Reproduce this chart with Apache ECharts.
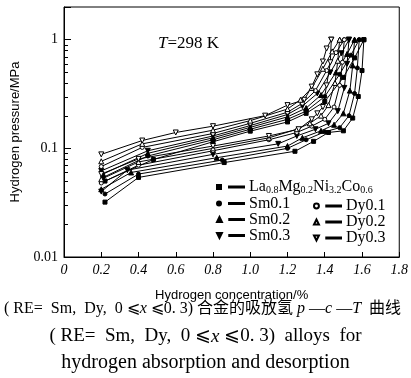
<!DOCTYPE html>
<html>
<head>
<meta charset="utf-8">
<script src="https://cdn.jsdelivr.net/npm/echarts@6/dist/echarts.min.js"></script>
<style>
html, body { margin: 0; padding: 0; background: #fff; }
#main { width: 411px; height: 378px; }
</style>
</head>
<body>
<div id="main"></div>
<script>
// 合金名称 (图例)
var alloyNames = ['La0.8Mg0.2Ni3.2Co0.6', 'Sm0.1', 'Sm0.2', 'Sm0.3', 'Dy0.1', 'Dy0.2', 'Dy0.3'];
var xTicks = [0, 0.2, 0.4, 0.6, 0.8, 1.0, 1.2, 1.4, 1.6, 1.8];
var yMinor = [0.02, 0.03, 0.04, 0.05, 0.06, 0.07, 0.08, 0.09, 0.2, 0.3, 0.4, 0.5, 0.6, 0.7, 0.8, 0.9];

// 吸氢曲线 [浓度 %, 压力 MPa]
var laAbs = [[0.22,0.05],[0.48,0.079],[0.8,0.115],[1.0,0.144],[1.2,0.175],[1.3,0.21],[1.4,0.27],[1.5,0.45],[1.56,0.68],[1.61,1.0]];
var sm1Abs = [[0.21,0.054],[0.45,0.085],[0.8,0.12],[1.0,0.15],[1.2,0.185],[1.3,0.22],[1.4,0.3],[1.48,0.48],[1.54,0.72],[1.585,1.0]];
var sm2Abs = [[0.21,0.058],[0.45,0.09],[0.8,0.125],[1.0,0.156],[1.2,0.195],[1.3,0.235],[1.38,0.31],[1.46,0.5],[1.52,0.74],[1.56,1.0]];
var sm3Abs = [[0.2,0.062],[0.45,0.095],[0.8,0.13],[1.0,0.162],[1.2,0.205],[1.28,0.245],[1.36,0.32],[1.43,0.5],[1.49,0.75],[1.53,1.0]];
var dy1Abs = [[0.2,0.068],[0.42,0.102],[0.8,0.137],[1.0,0.17],[1.2,0.215],[1.28,0.26],[1.35,0.34],[1.41,0.52],[1.46,0.76],[1.505,1.0]];
var dy2Abs = [[0.2,0.076],[0.42,0.11],[0.8,0.147],[1.0,0.18],[1.2,0.23],[1.27,0.28],[1.33,0.36],[1.39,0.54],[1.44,0.78],[1.48,1.0]];
var dy3Abs = [[0.2,0.088],[0.42,0.118],[0.6,0.14],[0.8,0.16],[1.08,0.2],[1.2,0.25],[1.29,0.28],[1.33,0.37],[1.36,0.48],[1.39,0.63],[1.41,0.83],[1.435,1.0]];

// 放氢曲线
var laDes = [[1.61,1.0],[1.6,0.52],[1.58,0.3],[1.55,0.19],[1.5,0.145],[1.42,0.14],[1.34,0.116],[1.24,0.094],[0.86,0.074],[0.4,0.054],[0.22,0.032]];
var sm1Des = [[1.585,1.0],[1.575,0.55],[1.56,0.32],[1.53,0.2],[1.48,0.155],[1.4,0.142],[1.3,0.12],[1.2,0.1],[0.85,0.078],[0.4,0.058],[0.22,0.038]];
var sm2Des = [[1.56,1.0],[1.55,0.58],[1.535,0.34],[1.5,0.21],[1.45,0.165],[1.38,0.145],[1.28,0.125],[1.2,0.105],[0.82,0.082],[0.36,0.06],[0.2,0.042]];
var sm3Des = [[1.53,1.0],[1.52,0.6],[1.505,0.36],[1.47,0.22],[1.42,0.17],[1.35,0.15],[1.25,0.13],[1.15,0.11],[0.8,0.088],[0.34,0.063],[0.2,0.04]];
var dy1Des = [[1.505,1.0],[1.495,0.62],[1.48,0.38],[1.45,0.24],[1.4,0.185],[1.33,0.16],[1.25,0.14],[1.1,0.12],[0.8,0.095],[0.4,0.07],[0.2,0.048]];
var dy2Des = [[1.48,1.0],[1.47,0.64],[1.455,0.4],[1.42,0.25],[1.38,0.2],[1.32,0.17],[1.25,0.15],[1.1,0.125],[0.8,0.1],[0.4,0.075],[0.2,0.052]];
var dy3Des = [[1.435,1.0],[1.43,0.62],[1.41,0.38],[1.39,0.24],[1.36,0.21],[1.33,0.185],[1.26,0.15],[1.1,0.13],[0.8,0.105],[0.4,0.08],[0.2,0.058]];

var absList = [laAbs, sm1Abs, sm2Abs, sm3Abs, dy1Abs, dy2Abs, dy3Abs];
var desList = [laDes, sm1Des, sm2Des, sm3Des, dy1Des, dy2Des, dy3Des];

// 标记样式
var symbols = ['rect', 'circle', 'triangle', 'path://M0,0L10,0L5,9Z', 'circle', 'triangle', 'path://M0,0L10,0L5,9Z'];
var filled = [true, true, true, true, false, false, false];
var symSize = [4, 4, 5, 5, 4, 5, 5];

// 图例图标: 小标记 + 短线
var dash = 'M12,2L27,2L27,3L12,3Z';
var iconMark = [
  'M0,0.5L4,0.5L4,4.5L0,4.5Z',
  'M0,2.5A2,2,0,1,1,4,2.5A2,2,0,1,1,0,2.5Z',
  'M2,0L4.5,5L-0.5,5Z',
  'M-0.5,0L4.5,0L2,5Z',
  'M-0.5,2.5A2.5,2.5,0,1,1,4.5,2.5A2.5,2.5,0,1,1,-0.5,2.5Z',
  'M2,0L4.5,5L-0.5,5Z',
  'M-0.5,0L4.5,0L2,5Z'
];

var serif = '"Liberation Serif", "Times New Roman", serif';

var series = [];
for (var i = 0; i < alloyNames.length; i++) {
  [absList[i], desList[i]].forEach(function (d) {
    series.push({
      name: alloyNames[i],
      type: 'line',
      data: d,
      symbol: symbols[i],
      symbolSize: symSize[i],
      showAllSymbol: true,
      lineStyle: { color: '#000', width: 1 },
      itemStyle: {
        color: filled[i] ? '#000' : '#fff',
        borderColor: '#000',
        borderWidth: 1,
        opacity: 1
      },
      emphasis: { disabled: true },
      z: filled[i] ? 3 : 4
    });
  });
}

// 对数轴次刻度
series.push({
  type: 'custom',
  data: yMinor.map(function (v) { return [0, v]; }),
  silent: true,
  clip: false,
  z: 10,
  renderItem: function (params, api) {
    var p = api.coord([api.value(0), api.value(1)]);
    var y = Math.round(p[1]) + 0.5;
    return {
      type: 'line',
      shape: { x1: p[0], y1: y, x2: p[0] + 4, y2: y },
      style: { stroke: '#000', lineWidth: 1 }
    };
  }
});

var legendText = {
  fontFamily: serif,
  fontSize: 16,
  color: '#000',
  rich: {
    n: { fontFamily: serif, fontSize: 16, color: '#000' },
    s: { fontFamily: serif, fontSize: 10, color: '#000', padding: [7, 0, 0, 0] }
  }
};

function legendData(list) {
  return list.map(function (name) {
    var k = alloyNames.indexOf(name);
    return { name: name, icon: 'path://' + iconMark[k] + dash };
  });
}

var option = {
  backgroundColor: '#fff',
  animation: false,
  grid: {
    left: 64, right: 11, top: 7, bottom: 121,
    show: true, borderColor: '#000', borderWidth: 1, backgroundColor: 'transparent'
  },
  legend: [
    {
      data: legendData(alloyNames.slice(0, 4)),
      orient: 'vertical',
      left: 211, top: 174,
      itemWidth: 27, itemHeight: 5, itemGap: 0,
      selectedMode: false,
      textStyle: legendText,
      formatter: function (name) {
        if (name === 'La0.8Mg0.2Ni3.2Co0.6') {
          return '{n|La}{s|0.8}{n|Mg}{s|0.2}{n|Ni}{s|3.2}{n|Co}{s|0.6}';
        }
        return '{n|' + name + '}';
      }
    },
    {
      data: legendData(alloyNames.slice(4)),
      orient: 'vertical',
      left: 308, top: 193,
      itemWidth: 27, itemHeight: 5, itemGap: 0,
      selectedMode: false,
      textStyle: legendText,
      formatter: function (name) { return '{n|' + name + '}'; }
    }
  ],
  xAxis: {
    type: 'value',
    min: 0, max: 1.8, interval: 0.2,
    name: 'Hydrogen concentration/%',
    nameLocation: 'middle',
    nameGap: 32,
    nameTextStyle: { fontFamily: '"Liberation Sans", Arial, sans-serif', fontSize: 13, color: '#000' },
    axisLine: { lineStyle: { color: '#000', width: 1 } },
    axisTick: { inside: true, length: 5, lineStyle: { color: '#000' } },
    splitLine: { show: false },
    axisLabel: {
      color: '#000', fontFamily: serif, fontStyle: 'italic', fontSize: 14, margin: 6,
      formatter: function (v) {
        var t = xTicks.filter(function (x) { return Math.abs(x - v) < 1e-6; })[0];
        return t === 0 ? '0' : v.toFixed(1);
      }
    }
  },
  yAxis: {
    type: 'log',
    logBase: 10,
    min: 0.01, max: 2,
    name: 'Hydrogen pressure/MPa',
    nameLocation: 'middle',
    nameGap: 42,
    nameTextStyle: { fontFamily: '"Liberation Sans", Arial, sans-serif', fontSize: 13, color: '#000' },
    axisLine: { lineStyle: { color: '#000', width: 1 } },
    axisTick: { inside: true, length: 7, lineStyle: { color: '#000' } },
    splitLine: { show: false },
    axisLabel: {
      color: '#000', fontFamily: serif, fontSize: 14, margin: 6,
      formatter: function (v) {
        if (Math.abs(v - 1) < 1e-9) return '1';
        if (Math.abs(v - 0.1) < 1e-9) return '0.1';
        if (Math.abs(v - 0.01) < 1e-9) return '0.01';
        return '';
      }
    }
  },
  graphic: [
    {
      type: 'text', left: 158, top: 35,
      style: {
        text: '{i|T}{n|=298 K}',
        rich: {
          i: { fontFamily: serif, fontStyle: 'italic', fontSize: 17, fill: '#000' },
          n: { fontFamily: serif, fontSize: 17, fill: '#000' }
        }
      }
    },
    {
      type: 'text', left: 4, top: 301,
      style: {
        text: '( RE=  Sm,  Dy,  0 ⩽{i|x} ⩽0. 3) 合金的吸放氢 {i|p} —{i|c} —{i|T}  曲线',
        fontFamily: serif + ', "Noto Sans CJK SC"', fontSize: 16, fill: '#000',
        rich: { i: { fontFamily: serif, fontStyle: 'italic', fontSize: 16, fill: '#000' } }
      }
    },
    {
      type: 'text', left: 'center', top: 327,
      style: {
        text: '( RE=  Sm,  Dy,  0 ⩽{i|x} ⩽0. 3)  alloys  for',
        fontFamily: serif, fontSize: 19, fill: '#000',
        rich: { i: { fontFamily: serif, fontStyle: 'italic', fontSize: 19, fill: '#000' } }
      }
    },
    {
      type: 'text', left: 'center', top: 353,
      style: {
        text: 'hydrogen absorption and desorption',
        fontFamily: serif, fontSize: 20, fill: '#000'
      }
    }
  ],
  series: series
};

var chart = echarts.init(document.getElementById('main'));
chart.setOption(option);
</script>
</body>
</html>
